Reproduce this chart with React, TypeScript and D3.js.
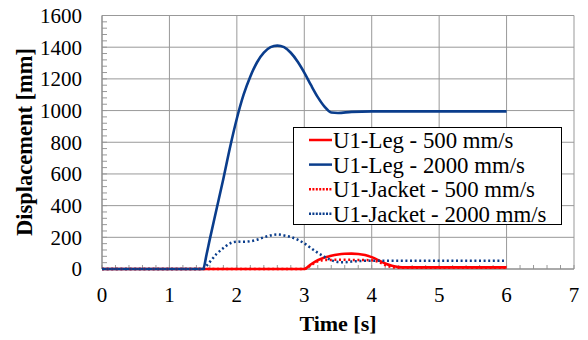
import React from 'react'
import * as d3 from 'd3'

// time [s] / displacement [mm]
const legT = [0, 1.5, 1.55, 1.6, 1.7, 1.8, 1.9, 2.0, 2.1, 2.2, 2.3, 2.4, 2.5, 2.6, 2.7, 2.8, 2.9, 3.0, 3.1, 3.2, 3.3, 3.4, 3.5, 3.7, 4.0, 5.0, 6.0]
const leg2000 = [0, 0, 90, 190, 380, 570, 770, 950, 1100, 1215, 1305, 1365, 1400, 1410, 1400, 1365, 1310, 1240, 1160, 1085, 1025, 988, 985, 992, 995, 995, 995]

const leg500T = [0, 3.0, 3.1, 3.2, 3.3, 3.4, 3.5, 3.6, 3.7, 3.8, 3.9, 4.0, 4.1, 4.2, 4.3, 4.4, 4.5, 5.0, 6.0]
const leg500 = [0, 0, 30, 55, 72, 84, 92, 96, 97, 95, 88, 75, 55, 35, 20, 12, 10, 10, 10]

const jack500T = [0, 3.0, 3.1, 3.2, 3.3, 3.5, 3.8, 4.0, 4.1, 4.2, 4.3, 4.4, 5.0, 6.0]
const jack500 = [0, 0, 25, 48, 56, 58, 57, 55, 45, 25, 12, 8, 8, 8]

const jack2000T = [0, 1.5, 1.55, 1.6, 1.7, 1.8, 1.9, 2.0, 2.1, 2.2, 2.3, 2.4, 2.5, 2.6, 2.7, 2.8, 2.9, 3.0, 3.1, 3.2, 3.3, 3.4, 3.5, 3.6, 3.7, 3.8, 4.0, 5.0, 6.0]
const jack2000 = [0, 0, 20, 45, 95, 132, 162, 173, 172, 175, 185, 200, 212, 218, 212, 202, 185, 162, 132, 102, 77, 56, 44, 43, 47, 50, 52, 52, 52]

const xTicks = [0, 1, 2, 3, 4, 5, 6, 7]
const yTicks = [0, 200, 400, 600, 800, 1000, 1200, 1400, 1600]

const seriesNames = ['U1-Leg - 500 mm/s', 'U1-Leg - 2000 mm/s', 'U1-Jacket - 500 mm/s', 'U1-Jacket - 2000 mm/s']

const RED = '#ff0000'
const NAVY = '#0a3d8c'
const font = '"Liberation Serif", "Times New Roman", serif'

const width = 588, height = 340
const left = 102, right = 574, top = 15.5, bottom = 269

const App = () => {
  const x = d3.scaleLinear().domain([0, 7]).range([left, right])
  const y = d3.scaleLinear().domain([0, 1600]).range([bottom, top])

  const line = d3.line<[number, number]>()
    .x(d => x(d[0]))
    .y(d => y(d[1]))
    .curve(d3.curveMonotoneX)

  const zip = (t: number[], v: number[]) => t.map((d, i) => [d, v[i]] as [number, number])

  const series = [
    { name: seriesNames[0], pts: zip(leg500T, leg500), color: RED, dash: null },
    { name: seriesNames[1], pts: zip(legT, leg2000), color: NAVY, dash: null },
    { name: seriesNames[2], pts: zip(jack500T, jack500), color: RED, dash: '2 2.6' },
    { name: seriesNames[3], pts: zip(jack2000T, jack2000), color: NAVY, dash: '2 2.6' }
  ]

  // minor ticks
  const xMinor = d3.range(0, 7.001, 0.2)
  const yMinor = d3.range(0, 1600.1, 40)

  return (
    <svg width={width} height={height} style={{ position: 'absolute', left: 0, top: 0, background: '#fff' }}>
      {/* grid */}
      {xTicks.map(d => (
        <line key={'gx' + d} x1={x(d)} x2={x(d)} y1={y(1600)} y2={y(0)} stroke='#999' strokeWidth={1} />
      ))}
      {yTicks.map(d => (
        <line key={'gy' + d} x1={x(0)} x2={x(7)} y1={y(d)} y2={y(d)} stroke='#999' strokeWidth={1} />
      ))}
      {xMinor.map((d, i) => (
        <line key={'mx' + i} x1={x(d)} x2={x(d)} y1={y(0)} y2={y(0) - 4} stroke='#999' />
      ))}
      {yMinor.map((d, i) => (
        <line key={'my' + i} x1={x(0)} x2={x(0) + 5} y1={y(d)} y2={y(d)} stroke='#999' />
      ))}
      <line x1={x(0)} x2={x(0)} y1={y(1600)} y2={y(0)} stroke='#888' />
      <line x1={x(0)} x2={x(7)} y1={y(0)} y2={y(0)} stroke='#888' />

      {/* series */}
      {series.map(s => (
        <path key={s.name} d={line(s.pts) || ''} fill='none' stroke={s.color}
          strokeWidth={s.dash ? 2.5 : 2.6} strokeDasharray={s.dash || undefined} />
      ))}

      {/* tick labels */}
      {xTicks.map(d => (
        <text key={'tx' + d} x={x(d)} y={302} textAnchor='middle' fontFamily={font} fontSize={21}>{d}</text>
      ))}
      {yTicks.map(d => (
        <text key={'ty' + d} x={82} y={y(d)} dy='0.35em' textAnchor='end' fontFamily={font} fontSize={21}>{d}</text>
      ))}

      {/* axis titles */}
      <text x={338} y={331} textAnchor='middle' fontFamily={font} fontSize={22} fontWeight='bold'>Time [s]</text>
      <text transform='translate(32,142) rotate(-90)' textAnchor='middle' fontFamily={font} fontSize={22.5} fontWeight='bold'>Displacement [mm]</text>

      {/* legend */}
      <rect x={293.5} y={127.5} width={268} height={97} fill='#fff' stroke='#000' strokeWidth={1} />
      {series.map((s, i) => {
        const cy = 140 + i * 24.6
        return (
          <g key={'lg' + i}>
            <line x1={309} x2={332} y1={cy} y2={cy} stroke={s.color} strokeWidth={2.5} strokeDasharray={s.dash ? '2 1.4' : undefined} />
            <text x={333} y={cy} dy='0.35em' fontFamily={font} fontSize={22.8}>{s.name}</text>
          </g>
        )
      })}
    </svg>
  )
}

export default App
